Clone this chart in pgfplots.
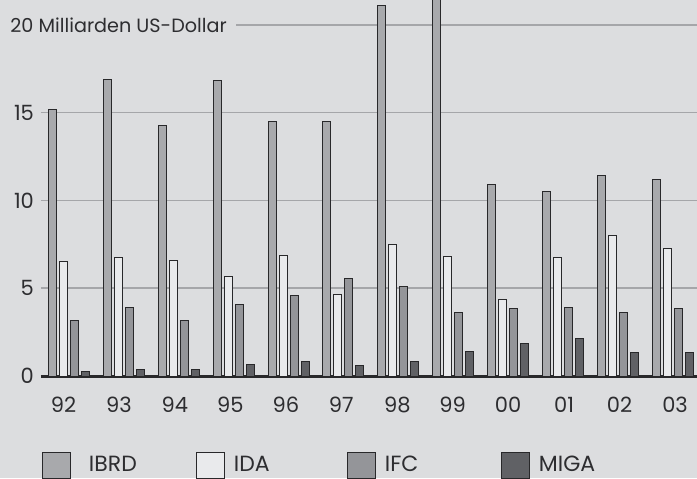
\documentclass[border=0pt]{standalone}
\usepackage{pgfplots}
\usepackage{pgfplotstable}
\pgfplotsset{compat=1.18}
\usepackage{fontspec}
\setmainfont{Poppins}
\definecolor{bg}{RGB}{220,221,223}
\definecolor{cibrd}{RGB}{168,169,172}
\definecolor{cida}{RGB}{233,234,236}
\definecolor{cifc}{RGB}{148,149,153}
\definecolor{cmiga}{RGB}{96,97,101}
\definecolor{txt}{RGB}{45,45,48}
\definecolor{gridc}{RGB}{165,166,169}
\definecolor{outl}{RGB}{40,40,42}
\pgfplotstableread{
x ibrd ida ifc miga
0 15.16 6.51 3.19 0.28
1 16.90 6.74 3.91 0.36
2 14.25 6.57 3.17 0.36
3 16.85 5.66 4.05 0.65
4 14.50 6.86 4.56 0.84
5 14.50 4.62 5.53 0.59
6 21.10 7.48 5.11 0.84
7 22.20 6.80 3.63 1.41
8 10.90 4.33 3.86 1.84
9 10.50 6.74 3.89 2.15
10 11.45 8.03 3.59 1.33
11 11.20 7.28 3.87 1.35
}\data
\begin{document}
\begin{tikzpicture}
\fill[bg] (0,0) rectangle (348.5pt,239pt);
\path[use as bounding box] (0,0) rectangle (348.5pt,239pt);
\begin{axis}[
  at={(20.5pt,51pt)}, anchor=south west,
  scale only axis, width=328pt, height=188pt,
  xmin=-0.51, xmax=11.44, ymin=0, ymax=21.42,
  axis x line*=bottom, axis y line*=left,
  x axis line style={-, line width=1.5pt, color=outl},
  y axis line style={draw=none},
  major tick length=0pt,
  ytick={0,5,10,15,20}, yticklabels={0,5,10,15,{}},
  xtick={-0.10,0.91,1.93,2.94,3.95,4.96,5.98,6.99,8.00,9.02,10.03,11.04},
  xticklabels={92,93,94,95,96,97,98,99,00,01,02,03},
  ymajorgrids, grid style={color=gridc, line width=0.75pt},
  ticklabel style={font=\fontsize{10.5}{12}\selectfont, color=txt},
  xticklabel style={yshift=-7pt},
  ybar=1.5pt, bar width=4pt,
  sq/.style={legend image code/.code={\draw[##1, line width=0.5pt] (0pt,-6.5pt) rectangle (14pt,6.5pt);}},
  legend columns=4,
  legend style={at={(0.0015,-0.2367)}, anchor=west, draw=none, fill=none,
    inner sep=0pt, outer sep=0pt, font=\fontsize{11}{13}\selectfont, text=txt},
  legend cell align=left,
]
\addplot[sq, fill=cibrd, draw=outl, line width=0.5pt] table[x=x, y=ibrd] {\data};
\addplot[sq, fill=cida, draw=outl, line width=0.5pt] table[x=x, y=ida] {\data};
\addplot[sq, fill=cifc, draw=outl, line width=0.5pt] table[x=x, y=ifc] {\data};
\addplot[sq, fill=cmiga, draw=outl, line width=0.5pt] table[x=x, y=miga] {\data};
\legend{\makebox[58.5pt][l]{\hspace*{7pt}IBRD},\makebox[57pt][l]{\hspace*{2.5pt}IDA},\makebox[58.5pt][l]{\hspace*{2.5pt}IFC},\makebox[45pt][l]{\hspace*{2.5pt}MIGA}}
\end{axis}
\fill[bg] (4pt,219pt) rectangle (118pt,234pt);
\node[anchor=base west, inner sep=0pt, color=txt, font=\fontsize{9.6}{12}\selectfont] at (5pt,222.8pt) {20 Milliarden US-Dollar};
\end{tikzpicture}
\end{document}
